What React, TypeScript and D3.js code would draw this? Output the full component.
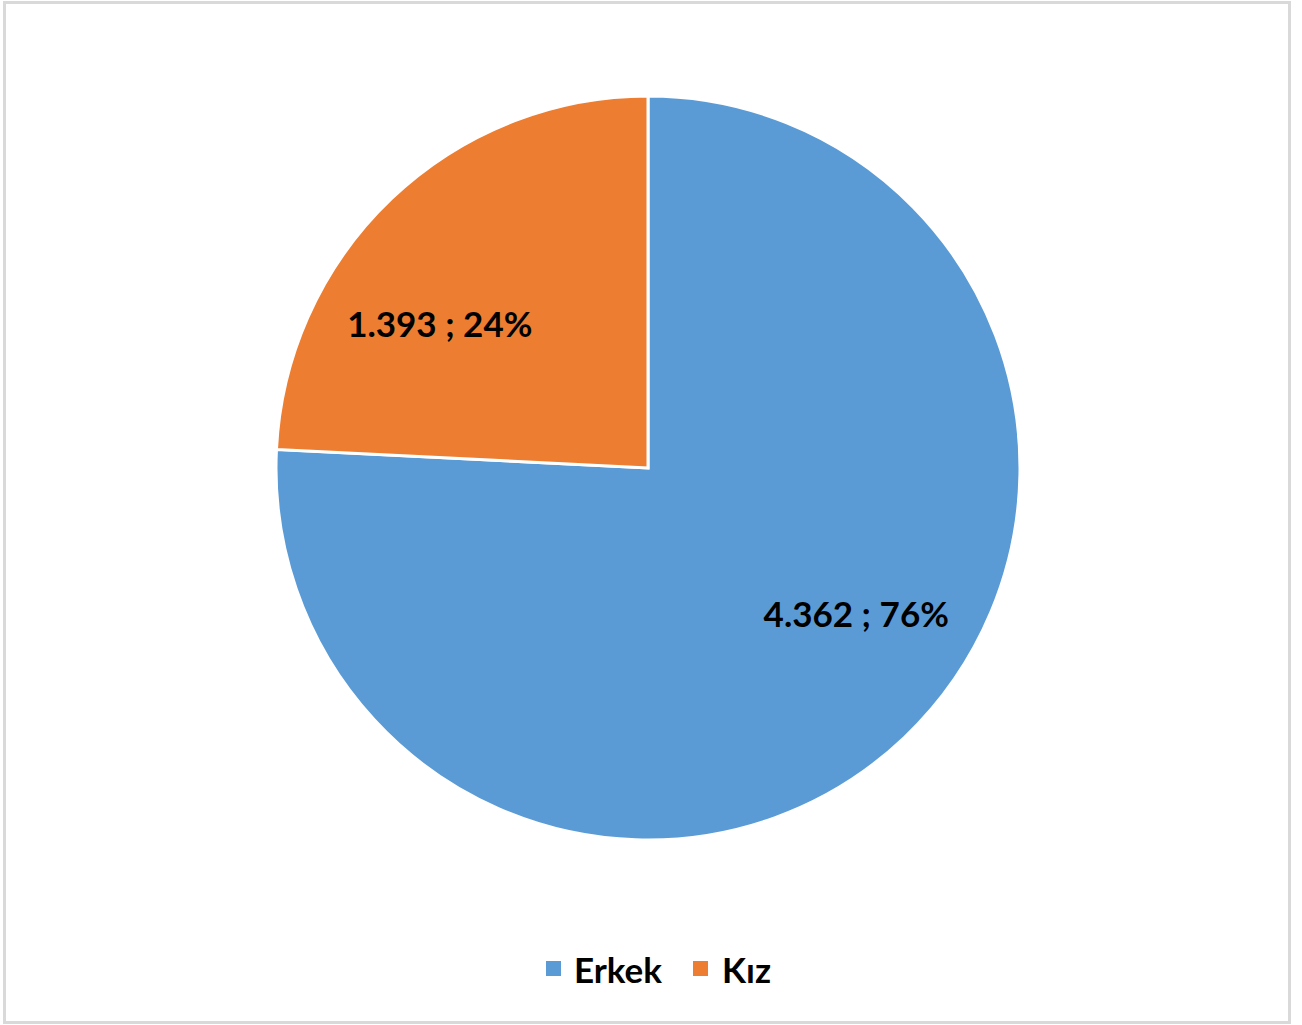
import * as d3 from "d3";

const categories = ["Erkek", "Kız"];
const values = [4362, 1393];
const labels = ["4.362 ; 76%", "1.393 ; 24%"];
const colors = ["#5B9BD5", "#ED7D31"];

const WIDTH = 1302;
const HEIGHT = 1025;
const CX = 648;
const CY = 468;
const RADIUS = 372;
const LABEL_R = 254;
const LABEL_SHIFT = (-11.5 * Math.PI) / 180; // best-fit style label offset
const FONT = "Lato, 'Open Sans', sans-serif";

type Slice = { name: string; value: number; label: string; color: string };

export default function App() {
  const data: Slice[] = categories.map((name, i) => ({
    name,
    value: values[i],
    label: labels[i],
    color: colors[i],
  }));

  const pie = d3.pie<Slice>().sort(null).value((d) => d.value);
  const arcs = pie(data);
  const arc = d3.arc<d3.PieArcDatum<Slice>>().innerRadius(0).outerRadius(RADIUS);

  const legendY = 969;
  const legendItems = [
    { x: 546, textX: 574 },
    { x: 693, textX: 722 },
  ];

  return (
    <svg
      width={WIDTH}
      height={HEIGHT}
      style={{ position: "absolute", left: 0, top: 0, background: "#fff" }}
      fontFamily={FONT}
    >
      <rect x={4.5} y={2.5} width={1285} height={1020} fill="#fff" stroke="#d9d9d9" strokeWidth={3} />
      <g transform={`translate(${CX},${CY})`}>
        {arcs.map((a, i) => (
          <path key={i} d={arc(a) ?? ""} fill={a.data.color} stroke="#fff" strokeWidth={3} />
        ))}
        {arcs.map((a, i) => {
          const mid = (a.startAngle + a.endAngle) / 2 + LABEL_SHIFT;
          const x = Math.sin(mid) * LABEL_R;
          const y = -Math.cos(mid) * LABEL_R;
          return (
            <text
              key={i}
              x={x}
              y={y}
              textAnchor="middle"
              dominantBaseline="central"
              fontSize={35}
              fontWeight="bold"
              fill="#000"
            >
              {a.data.label}
            </text>
          );
        })}
      </g>
      {data.map((d, i) => (
        <g key={d.name}>
          <rect x={legendItems[i].x} y={legendY - 8} width={15} height={15} fill={d.color} />
          <text
            x={legendItems[i].textX}
            y={legendY}
            dominantBaseline="central"
            fontSize={35}
            fontWeight="bold"
            fill="#000"
          >
            {d.name}
          </text>
        </g>
      ))}
    </svg>
  );
}
